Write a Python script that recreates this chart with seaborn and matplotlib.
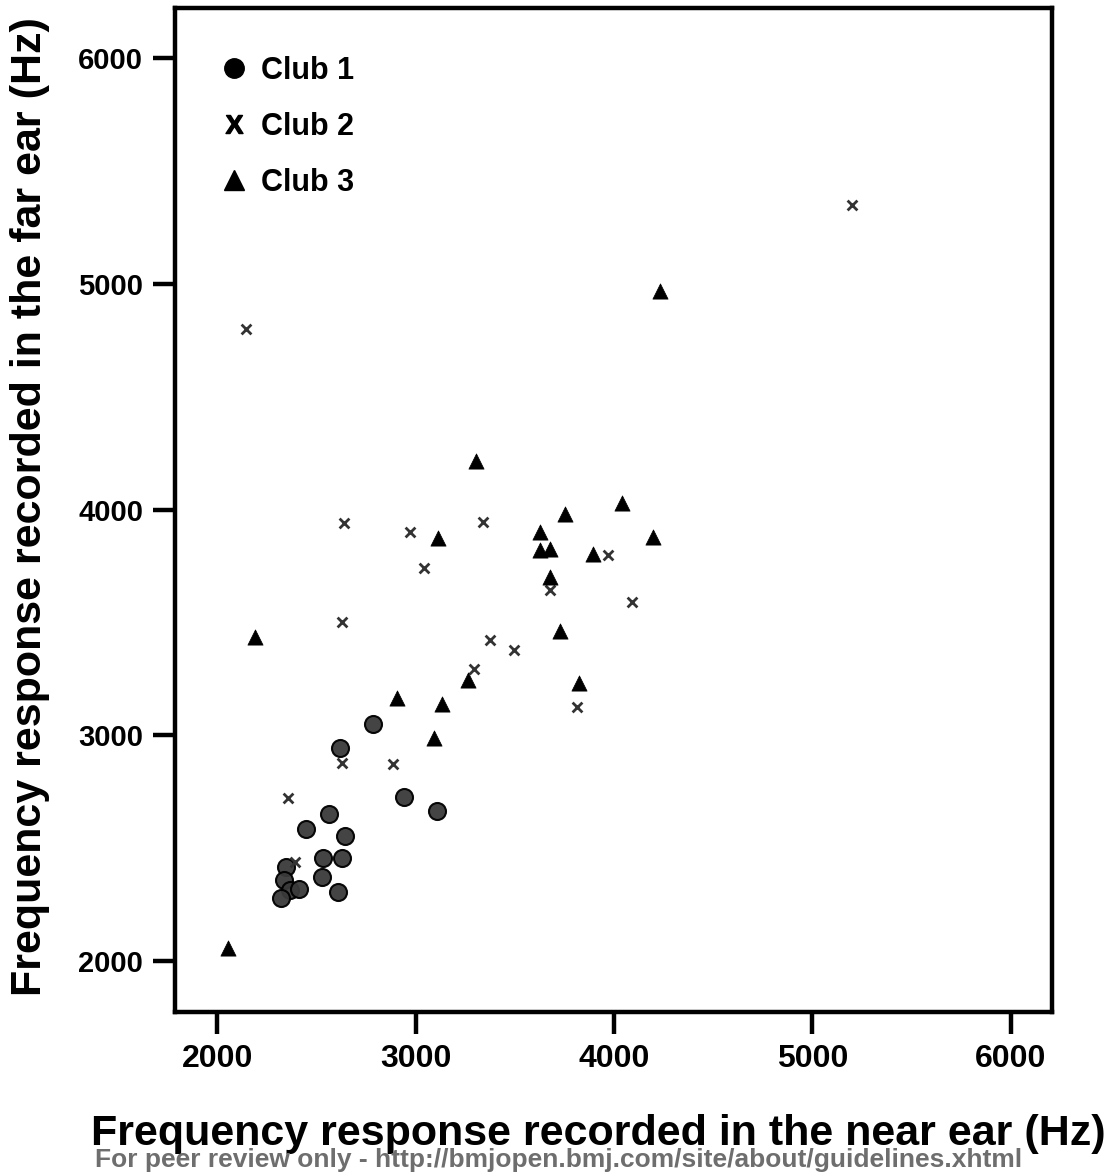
import matplotlib
matplotlib.use("Agg")
import matplotlib.pyplot as plt
import seaborn as sns
import pandas as pd
from matplotlib.lines import Line2D

# ---- data (Hz) ----
club1_near = [2786, 2620, 2942, 3108, 2564, 2448, 2645, 2534, 2630, 2529, 2610,
              2348, 2338, 2368, 2413, 2322]
club1_far = [3050, 2944, 2727, 2665, 2651, 2585, 2554, 2456, 2456, 2372, 2306,
             2416, 2359, 2315, 2319, 2279]

club2_near = [2146, 2640, 2972, 3340, 3043, 2630, 3375, 3496, 3295, 3970, 3678,
              4091, 3814, 2630, 2887, 2358, 2393, 5200]
club2_far = [4800, 3941, 3901, 3945, 3741, 3502, 3422, 3378, 3294, 3799, 3644,
             3591, 3125, 2877, 2873, 2722, 2439, 5350]

club3_near = [2055, 2191, 4232, 3305, 4040, 3753, 3113, 3627, 3627, 3678, 3894,
              3678, 3728, 3264, 3824, 2907, 3134, 3093, 4196]
club3_far = [2058, 3436, 4969, 4215, 4029, 3981, 3874, 3901, 3821, 3825, 3803,
             3701, 3462, 3245, 3232, 3165, 3139, 2988, 3879]

tick_values = [2000, 3000, 4000, 5000, 6000]
club_labels = ["Club 1", "Club 2", "Club 3"]

df = pd.concat([
    pd.DataFrame({"near": club1_near, "far": club1_far, "club": club_labels[0]}),
    pd.DataFrame({"near": club2_near, "far": club2_far, "club": club_labels[1]}),
    pd.DataFrame({"near": club3_near, "far": club3_far, "club": club_labels[2]}),
])

sns.set_style("ticks")
plt.rcParams["font.family"] = ["Liberation Sans", "DejaVu Sans"]
plt.rcParams["font.weight"] = "bold"
plt.rcParams["text.color"] = "black"
plt.rcParams["axes.labelcolor"] = "black"
plt.rcParams["xtick.color"] = "black"
plt.rcParams["ytick.color"] = "black"
plt.rcParams["mathtext.fontset"] = "custom"
plt.rcParams["mathtext.bf"] = "Liberation Sans:bold"
plt.rcParams["mathtext.rm"] = "Liberation Sans"

fig = plt.figure(figsize=(11.15, 11.76), dpi=100)
ax = fig.add_axes([0.157, 0.1395, 0.7865, 0.8535])

sns.scatterplot(data=df[df.club == "Club 1"], x="near", y="far", marker="o",
                s=150, color="#3a3a3a", edgecolor="black", linewidth=1.5,
                alpha=0.95, ax=ax, legend=False)
sns.scatterplot(data=df[df.club == "Club 2"], x="near", y="far", marker="x",
                s=50, color="#333333", linewidth=2.0, ax=ax, legend=False)
sns.scatterplot(data=df[df.club == "Club 3"], x="near", y="far", marker="^",
                s=120, color="black", edgecolor="black", linewidth=0.5,
                ax=ax, legend=False)

ax.set_xlim(1788, 6207)
ax.set_ylim(1774, 6221)
ax.set_xticks(tick_values)
ax.set_yticks(tick_values)
ax.set_xticklabels([str(v) for v in tick_values], fontsize=23, fontweight="bold")
ax.set_yticklabels([str(v) for v in tick_values], fontsize=21, fontweight="bold")
ax.tick_params(axis="both", direction="out", length=16, width=3.2, pad=7, color="black",
               labelcolor="black")

for sp in ax.spines.values():
    sp.set_linewidth(3.2)
    sp.set_color("black")
    sp.set_visible(True)

ax.set_xlabel("")
ax.set_ylabel("")

fig.text(0.027, 0.569, "Frequency response recorded in the far ear (Hz)",
         rotation=90, ha="center", va="center", fontsize=31, fontweight="bold")
fig.text(0.537, 0.036, "Frequency response recorded in the near ear (Hz)",
         ha="center", va="center", fontsize=31, fontweight="bold")
fig.text(0.501, 0.0136, "For peer review only - http://bmjopen.bmj.com/site/about/guidelines.xhtml",
         ha="center", va="center", fontsize=19, fontweight="bold", color="#6e6e6e")

handles = [
    Line2D([], [], marker="o", linestyle="none", markersize=14, color="black"),
    Line2D([], [], marker="$\\mathbf{X}$", linestyle="none", markersize=13, color="black"),
    Line2D([], [], marker="^", linestyle="none", markersize=14, color="black"),
]
leg = ax.legend(handles, club_labels, loc="upper left", frameon=False,
                prop={"size": 22, "weight": "bold"}, handlelength=0.8,
                handletextpad=0.5, labelspacing=0.85,
                bbox_to_anchor=(0.039, 0.965), borderaxespad=0)

fig.savefig("out.png", dpi=100)
